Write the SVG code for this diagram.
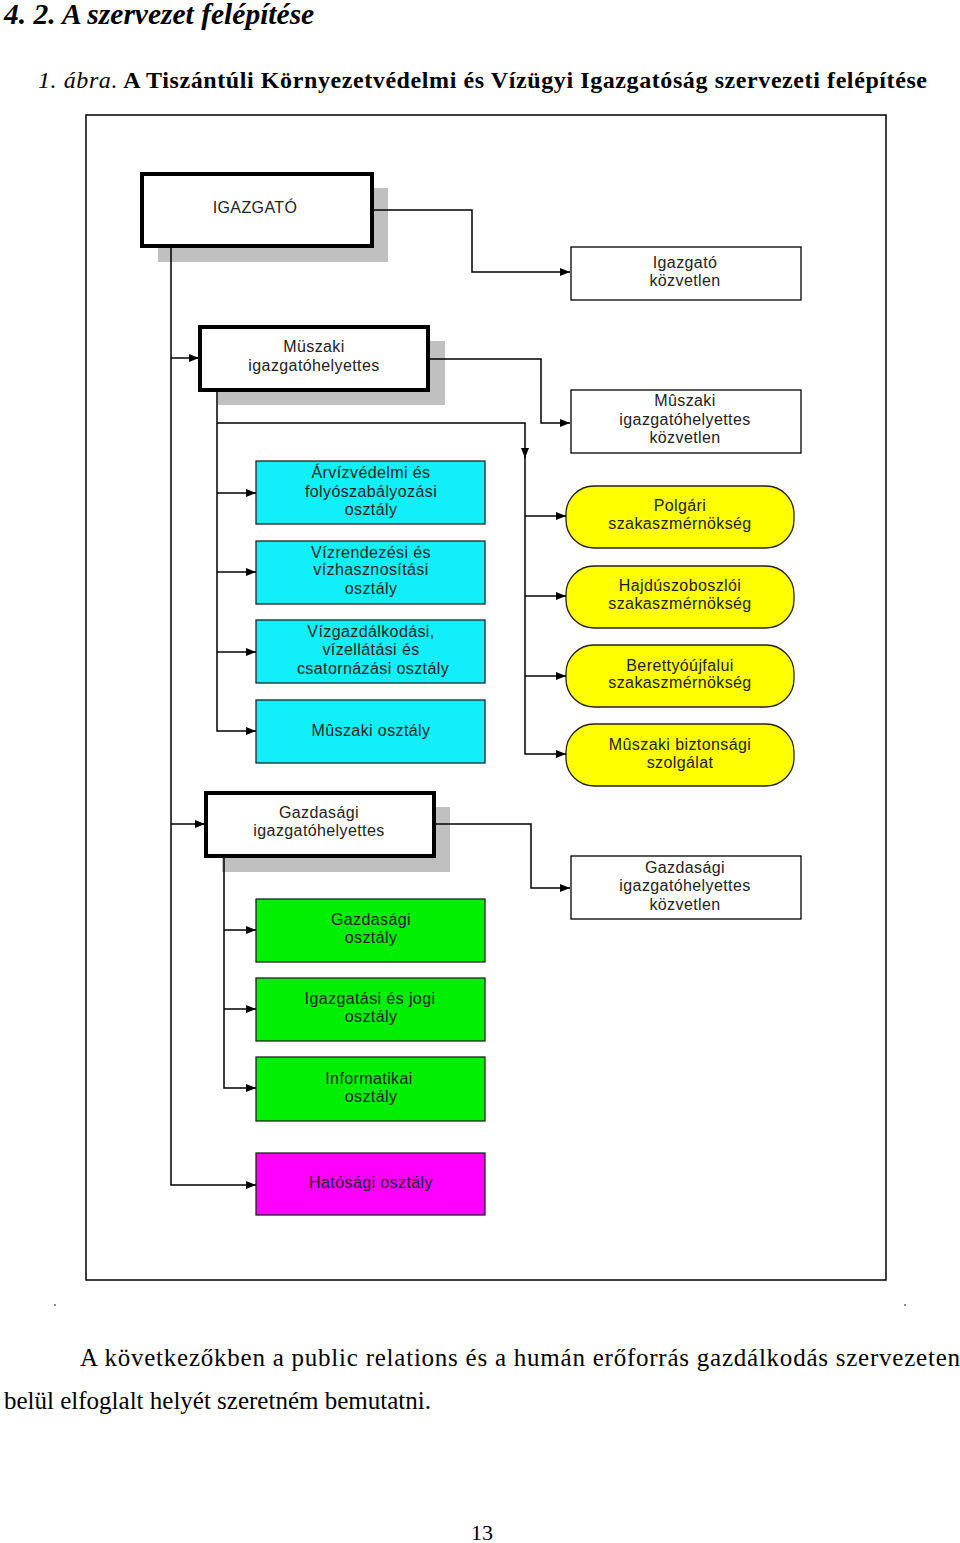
<svg xmlns="http://www.w3.org/2000/svg" width="960" height="1543" viewBox="0 0 960 1543">
<defs>
<style>
.lbl{font-family:"Liberation Sans",Arial,sans-serif;font-size:16px;letter-spacing:0.4px;text-anchor:middle;fill:#222}
.serif{font-family:"Liberation Serif","Times New Roman",serif;fill:#000}
.conn{fill:none;stroke:#000;stroke-width:1.5}
.shadow{fill:#c0c0c0}
.head{fill:#fff;stroke:#000;stroke-width:4}
.plain{fill:#fff;stroke:#000;stroke-width:1.3}
.cyan{fill:#0ff0fa;stroke:#222;stroke-width:1.3}
.yel{fill:#ffff00;stroke:#222;stroke-width:1.3}
.grn{fill:#00ee00;stroke:#222;stroke-width:1.3}
.mag{fill:#ff00ff;stroke:#222;stroke-width:1.3}
</style>
<marker id="ar" markerUnits="userSpaceOnUse" markerWidth="11" markerHeight="9" refX="10" refY="4" orient="auto">
<path d="M0,0 L10,4 L0,8 z" fill="#000"/>
</marker>
</defs>
<rect width="960" height="1543" fill="#fff"/>

<text class="serif" x="4" y="24" font-size="29.5" font-weight="bold" font-style="italic">4. 2. A szervezet felépítése</text>
<text class="serif" x="38" y="88" font-size="24" textLength="889"><tspan font-style="italic">1. ábra.</tspan><tspan font-weight="bold"> A Tiszántúli Környezetvédelmi és Vízügyi Igazgatóság szervezeti felépítése</tspan></text>

<rect x="86" y="115" width="800" height="1165" fill="none" stroke="#000" stroke-width="1.5"/>

<g id="igazgato">
<rect class="shadow" x="158" y="188" width="230" height="74"/>
<rect class="head" x="142" y="174" width="230" height="72"/>
<text class="lbl" x="255" y="213">IGAZGATÓ</text>
</g>
<g id="igazgato-kozvetlen">
<rect class="plain" x="571" y="247" width="230" height="53"/>
<text class="lbl" x="685" y="268">Igazgató</text>
<text class="lbl" x="685" y="286">közvetlen</text>
</g>
<g id="muszaki-ih">
<rect class="shadow" x="218" y="341" width="227" height="64"/>
<rect class="head" x="200" y="327" width="228" height="63"/>
<text class="lbl" x="314" y="352">Müszaki</text>
<text class="lbl" x="314" y="371">igazgatóhelyettes</text>
</g>
<g id="muszaki-ih-kozvetlen">
<rect class="plain" x="571" y="390" width="230" height="63"/>
<text class="lbl" x="685" y="406">Mûszaki</text>
<text class="lbl" x="685" y="425">igazgatóhelyettes</text>
<text class="lbl" x="685" y="443">közvetlen</text>
</g>

<g id="arvizvedelmi">
<rect class="cyan" x="256" y="461" width="229" height="63"/>
<text class="lbl" x="371" y="478">Árvízvédelmi és</text>
<text class="lbl" x="371" y="497">folyószabályozási</text>
<text class="lbl" x="371" y="515">osztály</text>
</g>
<g id="vizrendezesi">
<rect class="cyan" x="256" y="541" width="229" height="63"/>
<text class="lbl" x="371" y="558">Vízrendezési és</text>
<text class="lbl" x="371" y="575">vízhasznosítási</text>
<text class="lbl" x="371" y="594">osztály</text>
</g>
<g id="vizgazdalkodasi">
<rect class="cyan" x="256" y="620" width="229" height="63"/>
<text class="lbl" x="371" y="637">Vízgazdálkodási,</text>
<text class="lbl" x="371" y="655">vízellátási és</text>
<text class="lbl" x="373" y="674">csatornázási osztály</text>
</g>
<g id="muszaki-osztaly">
<rect class="cyan" x="256" y="700" width="229" height="63"/>
<text class="lbl" x="371" y="736">Mûszaki osztály</text>
</g>

<g id="polgari">
<rect class="yel" x="566" y="486" width="228" height="62" rx="28" ry="28"/>
<text class="lbl" x="680" y="511">Polgári</text>
<text class="lbl" x="680" y="529">szakaszmérnökség</text>
</g>
<g id="hajduszoboszloi">
<rect class="yel" x="566" y="566" width="228" height="62" rx="28" ry="28"/>
<text class="lbl" x="680" y="591">Hajdúszoboszlói</text>
<text class="lbl" x="680" y="609">szakaszmérnökség</text>
</g>
<g id="berettyoujfalui">
<rect class="yel" x="566" y="645" width="228" height="62" rx="28" ry="28"/>
<text class="lbl" x="680" y="671">Berettyóújfalui</text>
<text class="lbl" x="680" y="688">szakaszmérnökség</text>
</g>
<g id="muszaki-biztonsagi">
<rect class="yel" x="566" y="724" width="228" height="62" rx="28" ry="28"/>
<text class="lbl" x="680" y="750">Mûszaki biztonsági</text>
<text class="lbl" x="680" y="768">szolgálat</text>
</g>

<g id="gazdasagi-ih">
<rect class="shadow" x="222" y="807" width="228" height="65"/>
<rect class="head" x="206" y="793" width="228" height="63"/>
<text class="lbl" x="319" y="818">Gazdasági</text>
<text class="lbl" x="319" y="836">igazgatóhelyettes</text>
</g>
<g id="gazdasagi-ih-kozvetlen">
<rect class="plain" x="571" y="856" width="230" height="63"/>
<text class="lbl" x="685" y="873">Gazdasági</text>
<text class="lbl" x="685" y="891">igazgatóhelyettes</text>
<text class="lbl" x="685" y="910">közvetlen</text>
</g>

<g id="gazdasagi-osztaly">
<rect class="grn" x="256" y="899" width="229" height="63"/>
<text class="lbl" x="371" y="925">Gazdasági</text>
<text class="lbl" x="371" y="943">osztály</text>
</g>
<g id="igazgatasi">
<rect class="grn" x="256" y="978" width="229" height="63"/>
<text class="lbl" x="370" y="1004">Igazgatási és jogi</text>
<text class="lbl" x="371" y="1022">osztály</text>
</g>
<g id="informatikai">
<rect class="grn" x="256" y="1057" width="229" height="64"/>
<text class="lbl" x="369" y="1084">Informatikai</text>
<text class="lbl" x="371" y="1102">osztály</text>
</g>
<g id="hatosagi">
<rect class="mag" x="256" y="1153" width="229" height="62"/>
<text class="lbl" x="371" y="1188" fill="#402040">Hatósági osztály</text>
</g>

<g id="connectors">
<path class="conn" d="M374,210 H472 V272 H570" marker-end="url(#ar)"/>
<path class="conn" d="M171,248 V1185 H256" marker-end="url(#ar)"/>
<path class="conn" d="M171,358 H199" marker-end="url(#ar)"/>
<path class="conn" d="M171,824 H205" marker-end="url(#ar)"/>
<path class="conn" d="M430,359 H541 V423 H570" marker-end="url(#ar)"/>
<path class="conn" d="M217,392 V731 H256" marker-end="url(#ar)"/>
<path class="conn" d="M217,493 H256" marker-end="url(#ar)"/>
<path class="conn" d="M217,572 H256" marker-end="url(#ar)"/>
<path class="conn" d="M217,652 H256" marker-end="url(#ar)"/>
<path class="conn" d="M217,423 H525 V458" marker-end="url(#ar)"/>
<path class="conn" d="M525,456 V754 H566" marker-end="url(#ar)"/>
<path class="conn" d="M525,516 H566" marker-end="url(#ar)"/>
<path class="conn" d="M525,596 H566" marker-end="url(#ar)"/>
<path class="conn" d="M525,676 H566" marker-end="url(#ar)"/>
<path class="conn" d="M436,824 H531 V888 H570" marker-end="url(#ar)"/>
<path class="conn" d="M224,858 V1088 H256" marker-end="url(#ar)"/>
<path class="conn" d="M224,930 H256" marker-end="url(#ar)"/>
<path class="conn" d="M224,1009 H256" marker-end="url(#ar)"/>
</g>

<circle cx="55" cy="1305" r="0.8" fill="#000"/>
<circle cx="905" cy="1305" r="0.8" fill="#000"/>

<text class="serif" x="80" y="1366" font-size="25" textLength="880" lengthAdjust="spacing">A következőkben a public relations és a humán erőforrás gazdálkodás szervezeten</text>
<text class="serif" x="4" y="1409" font-size="25">belül elfoglalt helyét szeretném bemutatni.</text>
<text class="serif" x="482" y="1540" font-size="22" text-anchor="middle">13</text>
</svg>
